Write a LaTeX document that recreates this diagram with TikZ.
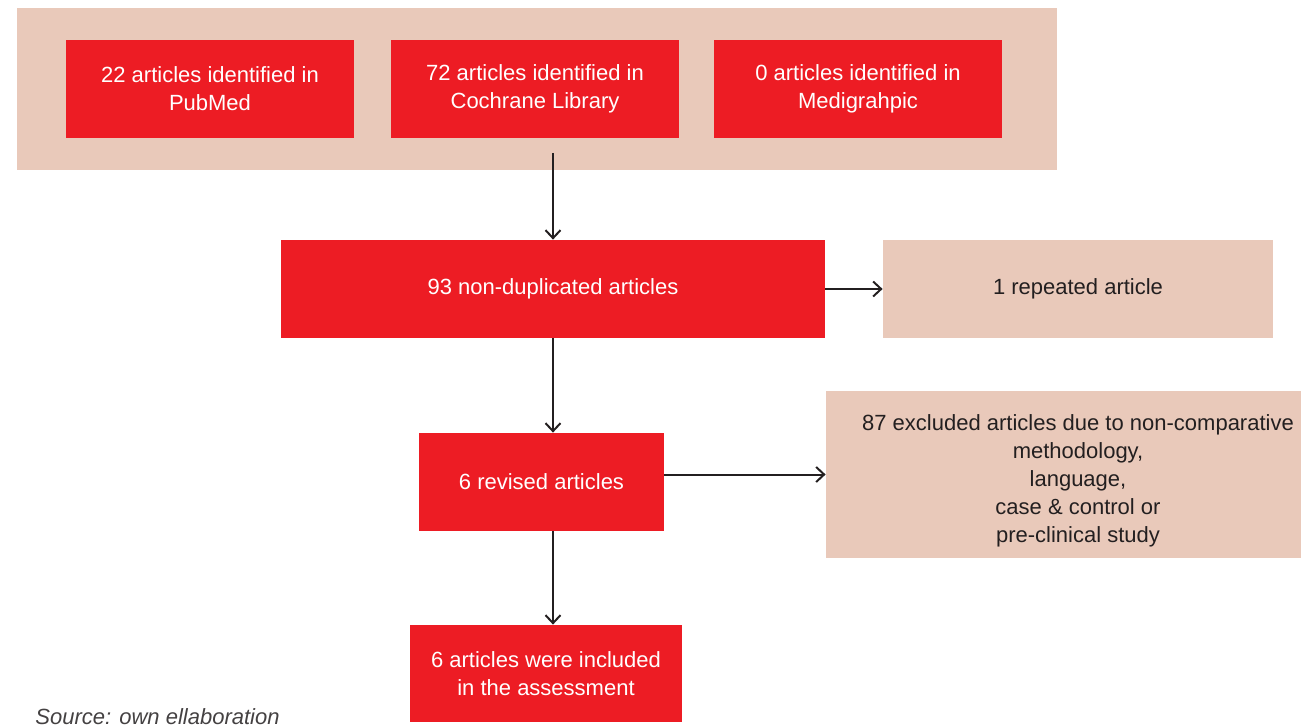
\documentclass[tikz,border=0pt]{standalone}
\usepackage{fontspec}
\setmainfont{Liberation Sans}
\usetikzlibrary{arrows.meta}
\definecolor{boxred}{HTML}{ED1C24}
\definecolor{peach}{HTML}{E9C9BA}
\definecolor{ink}{HTML}{231F20}
\begin{document}
\begin{tikzpicture}[x=0.5pt,y=-0.5pt,
  redbox/.style={fill=boxred,draw=none,text=white,align=center,inner sep=0pt,
    minimum height=49pt,font=\fontsize{11}{14}\selectfont},
  peachbox/.style={fill=peach,draw=none,text=ink,align=center,inner sep=0pt,
    font=\fontsize{11}{14}\selectfont},
  flow/.style={draw=ink,line width=1pt,-{Straight Barb[length=4pt,width=7.5pt,line width=1pt]}}]
\useasboundingbox (0,0) rectangle (1301,727);
\node[peachbox,minimum width=520pt,minimum height=81pt] (bg) at (537,89) {};
\node[redbox,minimum width=144pt] (pub) at (210,89) {22 articles identified in\\PubMed};
\node[redbox,minimum width=144pt] (coc) at (535,89) {72 articles identified in\\Cochrane Library};
\node[redbox,minimum width=144pt] (med) at (858,89) {0 articles identified in\\Medigrahpic};
\node[redbox,minimum width=272pt] (n93) at (553,289) {93 non-duplicated articles};
\node[peachbox,minimum width=195pt,minimum height=49pt] (rep) at (1078,289) {1 repeated article};
\node[redbox,minimum width=122.5pt] (rev) at (541.5,482) {6 revised articles};
\node[peachbox,minimum width=237.5pt,minimum height=83.5pt] (exc) at (1063.5,474.5) {};
\node[peachbox,fill=none] (exct) at (1078,481) {87 excluded articles due to non-comparative\\methodology,\\language,\\case \& control or\\pre-clinical study};
\node[redbox,minimum width=136pt,minimum height=48.5pt] (inc) at (546,673.5) {6 articles were included\\in the assessment};
\node[anchor=base west,inner sep=0pt,text=ink!85,font=\fontsize{11}{14}\selectfont\itshape] (src) at (35,724) {Source: own ellaboration};
\coordinate (a1) at (553,153);
\draw[flow] (a1) -- (a1 |- n93.north);
\draw[flow] (n93.east) -- (rep.west);
\draw[flow] (n93.south) -- (n93.south |- rev.north);
\draw[flow] (rev.east |- exc.west) -- (exc.west);
\draw[flow] (rev.south -| n93.south) -- (inc.north -| n93.south);
\end{tikzpicture}
\end{document}
